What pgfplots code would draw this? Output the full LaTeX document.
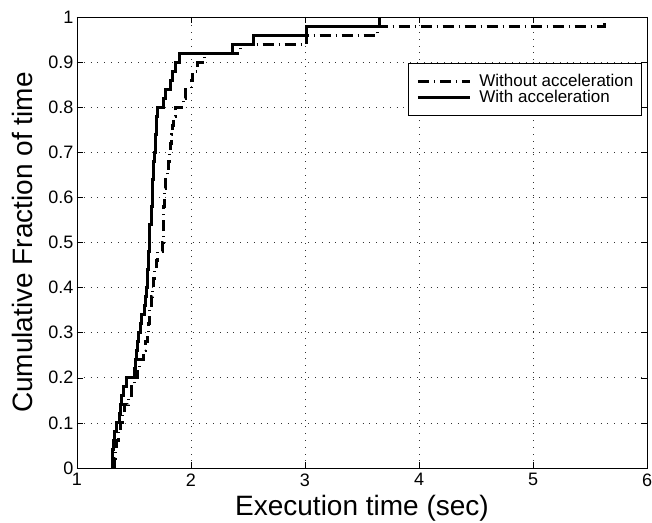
\documentclass[border=0pt]{standalone}
\usepackage{fontspec}
\setmainfont{Liberation Sans}
\usepackage{pgfplots}
\pgfplotsset{compat=1.18}

\begin{document}
\begin{tikzpicture}
\begin{axis}[
  scale only axis, width=570pt, height=451pt,
  xmin=1, xmax=6, ymin=0, ymax=1,
  xtick={1,2,3,4,5,6},
  ytick={0,0.1,0.2,0.3,0.4,0.5,0.6,0.7,0.8,0.9,1},
  /pgf/number format/assume math mode=true,
  ticklabel style={font=\fontsize{18}{18}\selectfont},
  xticklabel style={yshift=-2pt},
  tick align=inside, major tick length=6pt,
  tick style={black, line width=0.6pt},
  axis line style={line width=0.8pt},
  grid=major,
  major grid style={black!80, line width=0.8pt, dash pattern=on 0.8pt off 6pt},
  xlabel={Execution time (sec)},
  ylabel={Cumulative Fraction of time},
  label style={font=\fontsize{28}{28}\selectfont},
  xlabel style={at={(axis description cs:0.5,-0.1042)}, anchor=base},
  ylabel style={at={(axis description cs:-0.0772,0.5)}, anchor=base},
  legend style={at={(0.99,0.898)}, anchor=north east, draw=black, line width=0.8pt,
    inner xsep=7.5pt, inner ysep=10pt, font=\fontsize{17}{16}\selectfont,
    cells={anchor=west}, row sep=0pt,
    nodes={inner sep=0pt, text height=13pt, text depth=3pt},
    /tikz/every odd column/.append style={column sep=8pt}},
  legend image code/.code={\draw[#1] (0pt,0pt) -- (52pt,0pt);},
]
\addplot[const plot, black, line width=3pt, dash pattern=on 11pt off 5pt on 1pt off 5pt] coordinates {
  (1.33,0)(1.33,0.02)(1.34,0.04)(1.35,0.06)(1.36,0.08)(1.38,0.10)
  (1.40,0.12)(1.42,0.14)(1.45,0.16)(1.48,0.18)(1.50,0.20)
  (1.53,0.22)(1.55,0.24)(1.58,0.26)(1.60,0.28)(1.62,0.30)
  (1.63,0.32)(1.64,0.34)(1.64,0.36)(1.65,0.38)(1.66,0.40)
  (1.67,0.42)(1.68,0.44)(1.70,0.46)(1.71,0.48)(1.75,0.50)
  (1.76,0.52)(1.76,0.54)(1.76,0.56)(1.76,0.58)(1.77,0.60)
  (1.77,0.62)(1.78,0.64)(1.79,0.66)(1.80,0.68)(1.81,0.70)
  (1.82,0.72)(1.83,0.74)(1.84,0.76)(1.85,0.78)(1.86,0.80)
  (1.93,0.82)(1.95,0.84)(2.00,0.86)(2.01,0.88)(2.06,0.90)
  (2.12,0.92)(2.43,0.94)(3.01,0.96)(3.64,0.98)(5.63,1.00)
};
\addlegendentry{Without acceleration}
\addplot[const plot, black, line width=3pt] coordinates {
  (1.31,0)(1.31,0.02)(1.31,0.04)(1.32,0.06)(1.33,0.08)(1.35,0.10)
  (1.37,0.12)(1.38,0.14)(1.39,0.16)(1.41,0.18)(1.43,0.20)
  (1.50,0.22)(1.51,0.24)(1.52,0.26)(1.53,0.28)(1.54,0.30)
  (1.56,0.32)(1.57,0.34)(1.59,0.36)(1.60,0.38)(1.61,0.40)
  (1.62,0.42)(1.62,0.44)(1.63,0.46)(1.63,0.48)(1.64,0.50)
  (1.64,0.52)(1.64,0.54)(1.65,0.56)(1.65,0.58)(1.66,0.60)
  (1.66,0.62)(1.66,0.64)(1.67,0.66)(1.67,0.68)(1.68,0.70)
  (1.69,0.72)(1.69,0.74)(1.70,0.76)(1.70,0.78)(1.71,0.80)
  (1.76,0.82)(1.78,0.84)(1.82,0.86)(1.84,0.88)(1.86,0.90)
  (1.90,0.92)(2.36,0.94)(2.55,0.96)(3.01,0.98)(3.65,1.00)
};
\addlegendentry{With acceleration}
\end{axis}
\pgfresetboundingbox
\path[use as bounding box] ([shift={(-77pt,-54pt)}]current axis.south west) rectangle ([shift={(5pt,17pt)}]current axis.north east);
\end{tikzpicture}
\end{document}
